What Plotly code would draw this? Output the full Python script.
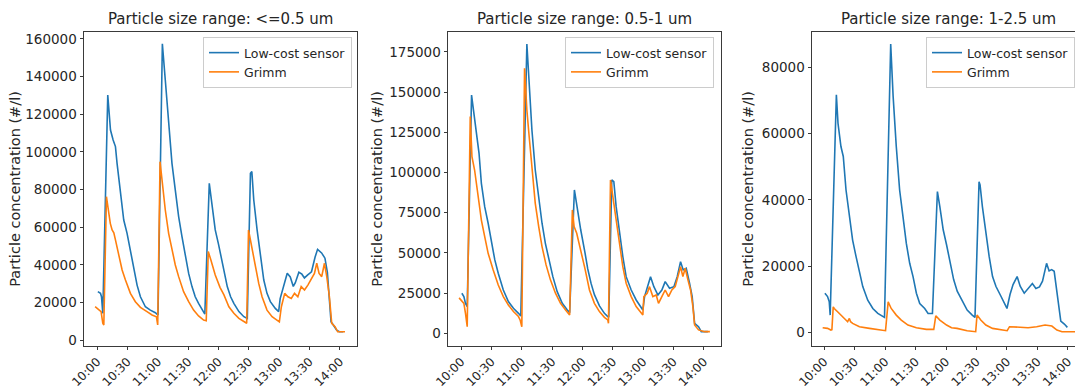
import plotly.graph_objects as go

# ---------------- data (minutes after 10:00, particle concentration #/l) ----------------
tick_minutes = [0, 30, 60, 90, 120, 150, 180, 210, 240]
tick_labels = ["10:00", "10:30", "11:00", "11:30", "12:00", "12:30", "13:00", "13:30", "14:00"]

panel_titles = ["Particle size range: <=0.5 um",
                "Particle size range: 0.5-1 um",
                "Particle size range: 1-2.5 um"]
series_names = ["Low-cost sensor", "Grimm"]
y_title = "Particle concentration (#/l)"

# Panel 1: <=0.5 um
p1_sensor_t = [0.7, 3.3, 4.3, 5.6, 10.5, 13.2, 15.8, 18.1, 19.7, 23.0, 26.3, 29.6, 32.9, 36.2, 39.5,
               42.8, 47.7, 52.6, 57.6, 60.2, 64.5, 67.4, 70.7, 74.0, 77.3, 80.6, 83.9, 87.2, 90.5,
               93.8, 97.0, 100.3, 104.6, 106.5, 110.9, 113.5, 116.8, 120.0, 123.0, 125.4, 128.7,
               132.0, 135.2, 140.2, 145.1, 148.5, 151.6, 153.0, 154.9, 158.2, 161.5, 164.8, 168.0,
               171.3, 176.2, 179.5, 181.0, 184.4, 188.0, 191.0, 194.0, 196.0, 199.5, 202.5, 205.0,
               208.0, 212.0, 215.5, 218.0, 222.0, 225.3, 227.7, 229.7, 231.3, 233.6, 236.9, 239.5,
               243.4]
p1_sensor_v = [25700, 24800, 23000, 14200, 130200, 111600, 106300, 102800, 93900, 78000, 63800,
               56700, 47800, 37200, 29200, 23000, 17700, 15900, 14500, 13300, 157400, 138200,
               117000, 93900, 79700, 65600, 54900, 44300, 35400, 28400, 23000, 19500, 15100, 13800,
               83300, 70900, 58500, 51000, 43000, 37200, 28400, 23000, 19500, 15100, 12400, 11500,
               88600, 89500, 74400, 58500, 44300, 31900, 24800, 20400, 16800, 15100, 22000, 29000,
               35500, 33500, 28500, 30500, 36000, 35000, 33000, 34500, 36300, 44000, 48200, 46300,
               43500, 36000, 23000, 9700, 8000, 5300, 4400, 4400]

p1_grimm_t = [-2.0, 1.6, 3.9, 5.6, 6.6, 9.2, 11.5, 13.0, 14.8, 16.5, 18.1, 21.4, 24.7, 28.0, 32.9,
              37.8, 42.8, 49.3, 54.3, 58.6, 59.9, 62.2, 64.8, 67.4, 70.7, 74.0, 77.3, 80.6, 85.5,
              90.5, 95.4, 100.3, 105.3, 107.9, 109.9, 112.5, 116.8, 121.5, 125.4, 130.3, 135.2,
              140.2, 145.1, 147.9, 149.7, 153.3, 156.6, 159.8, 163.1, 168.0, 173.0, 177.9, 180.2,
              182.2, 185.5, 188.7, 192.0, 195.2, 198.5, 201.8, 205.1, 208.4, 211.6, 214.9, 217.2,
              219.5, 222.1, 224.8, 227.1, 229.7, 232.0, 235.3, 237.9, 245.1]
p1_grimm_v = [17700, 15900, 15100, 8900, 8000, 76200, 65600, 62000, 58500, 57000, 53200, 44300,
              37200, 31900, 24800, 20400, 17400, 15100, 13300, 12400, 8000, 94800, 81500, 69100,
              56700, 47800, 39900, 33700, 25700, 20400, 15900, 12800, 10600, 10300, 47000, 42500,
              34600, 28000, 24000, 17700, 14200, 11500, 9700, 8900, 58500, 47800, 39000, 30100,
              23000, 15900, 12400, 10600, 9700, 17700, 24800, 23000, 22100, 24800, 23000, 28400,
              26600, 29200, 31900, 35400, 40800, 35400, 33700, 40800, 33700, 23000, 8900, 7100,
              4400, 4400]

# Panel 2: 0.5-1 um
p2_sensor_t = [0.7, 2.7, 4.3, 6.0, 10.3, 12.7, 15.0, 17.7, 20.0, 23.3, 26.7, 30.0, 33.3, 36.7,
               41.7, 46.7, 51.7, 56.7, 59.0, 65.0, 67.3, 70.0, 73.3, 76.7, 80.0, 83.3, 86.7, 90.7,
               95.0, 100.0, 105.0, 107.3, 112.0, 115.0, 118.3, 122.5, 125.2, 128.5, 131.8, 136.8,
               141.7, 145.0, 146.0, 149.0, 151.0, 153.3, 156.6, 159.9, 163.2, 168.2, 173.1, 178.1,
               179.7, 181.4, 184.7, 187.3, 190.6, 194.6, 198.5, 201.8, 206.1, 210.4, 213.7, 217.0,
               219.6, 222.6, 225.9, 228.5, 230.9, 234.8, 237.5, 244.0]
p2_sensor_v = [24900, 22800, 18600, 16600, 148100, 136800, 124300, 111900, 93200, 78700, 68400,
               55900, 45600, 37300, 26900, 19700, 15500, 12400, 10800, 179800, 151300, 126400,
               101500, 82900, 68400, 55900, 45600, 35200, 25900, 18600, 14500, 12800, 89100, 76700,
               64200, 50000, 40000, 31000, 24000, 17000, 12400, 10400, 10000, 95300, 94300, 78700,
               62200, 47700, 35200, 26900, 20700, 15500, 14500, 22800, 29000, 35200, 29000, 23800,
               26900, 32100, 28000, 29000, 35200, 44500, 39400, 40400, 31100, 22800, 6200, 4100,
               1000, 1000]

p2_grimm_t = [-2.0, 2.7, 4.3, 6.0, 9.0, 10.7, 13.3, 16.7, 20.0, 23.3, 26.7, 31.7, 36.7, 41.7, 46.7,
              51.7, 56.7, 58.3, 60.0, 62.7, 65.0, 67.3, 70.0, 73.3, 76.7, 80.0, 84.0, 88.3, 93.3,
              98.3, 103.3, 107.3, 110.0, 111.7, 114.3, 118.3, 122.5, 126.9, 131.8, 136.8, 141.7,
              145.0, 145.7, 147.7, 150.0, 153.3, 156.6, 159.9, 163.2, 168.2, 173.1, 178.1, 179.7,
              180.7, 184.0, 186.3, 189.6, 192.9, 195.2, 198.5, 201.8, 205.1, 208.4, 211.7, 215.0,
              217.0, 219.3, 221.6, 224.3, 226.9, 229.2, 230.9, 234.8, 240.8, 246.0]
p2_grimm_v = [22000, 18600, 12400, 4100, 134700, 109800, 101500, 85000, 70400, 60100, 49700, 39400,
              30000, 22800, 17600, 13500, 10400, 8300, 4100, 164700, 138800, 122200, 101500, 80800,
              66300, 53900, 42500, 33200, 24900, 18600, 14500, 11400, 76700, 66300, 62200, 51800,
              40000, 26900, 18600, 13500, 9900, 8300, 6200, 95300, 85000, 68400, 53900, 41400,
              31100, 22800, 16600, 12400, 11400, 22800, 24900, 29000, 22800, 23800, 18600, 22800,
              26900, 22800, 26900, 29000, 37300, 41400, 35200, 40400, 33200, 26900, 16600, 5200,
              2100, 1000, 1000]

# Panel 3: 1-2.5 um
p3_sensor_t = [0.7, 3.3, 5.0, 5.9, 12.0, 13.6, 16.5, 18.8, 21.5, 24.8, 28.0, 31.4, 34.7, 38.0,
               42.9, 47.9, 52.8, 59.4, 65.5, 67.9, 71.0, 74.3, 77.6, 80.9, 84.2, 87.5, 90.8, 94.1,
               99.0, 102.3, 106.6, 111.5, 113.9, 117.2, 120.5, 124.0, 127.5, 131.0, 135.8, 140.8,
               145.8, 148.5, 152.5, 153.5, 155.8, 159.2, 162.5, 165.8, 169.2, 174.2, 177.5, 180.0,
               183.0, 186.0, 190.0, 193.0, 197.0, 201.0, 205.0, 208.5, 212.0, 215.0, 219.0, 221.5,
               224.0, 226.5, 229.5, 233.0, 236.5, 239.5]
p3_sensor_v = [11900, 10900, 9300, 5300, 71700, 63100, 56100, 53100, 43000, 35000, 27900, 22900,
               17900, 13900, 9800, 7300, 5800, 4600, 87000, 71200, 56100, 43000, 35000, 26900,
               20900, 16900, 11900, 8800, 7300, 5800, 5800, 42500, 38000, 31000, 26500, 21000,
               16000, 12500, 9800, 6800, 5300, 4600, 45500, 44500, 38000, 29900, 22900, 16900,
               13900, 10900, 8800, 7300, 11500, 14500, 16900, 14000, 11900, 13500, 14800, 13300,
               13800, 15500, 20900, 18600, 19000, 18500, 12000, 3500, 2600, 1600]

p3_grimm_t = [-1.5, 3.3, 6.6, 7.6, 8.9, 9.9, 13.2, 18.2, 23.1, 24.8, 26.0, 28.0, 34.7, 44.6, 54.5,
              60.4, 63.0, 66.0, 71.0, 75.9, 82.5, 90.8, 100.7, 107.9, 109.9, 113.9, 120.5, 125.4,
              130.8, 140.8, 149.2, 150.5, 154.2, 159.2, 165.8, 174.2, 180.2, 182.5, 190.8, 200.8,
              209.2, 217.5, 224.2, 229.2, 234.2, 247.0]
p3_grimm_v = [1500, 1300, 800, 900, 7800, 7300, 6300, 4800, 3300, 4300, 3300, 2800, 1800, 1300, 800,
              600, 9300, 7300, 5300, 3800, 2300, 1500, 1000, 1000, 5100, 3800, 2300, 1500, 1300, 600,
              300, 5300, 3800, 2300, 1300, 800, 600, 1800, 1600, 1500, 1800, 2300, 2000, 800, 300, 300]

panels = [
    (p1_sensor_t, p1_sensor_v, p1_grimm_t, p1_grimm_v),
    (p2_sensor_t, p2_sensor_v, p2_grimm_t, p2_grimm_v),
    (p3_sensor_t, p3_sensor_v, p3_grimm_t, p3_grimm_v),
]

# ---------------- layout geometry ----------------
W, H = 1075, 392
BLUE, ORANGE = "#1f77b4", "#ff7f0e"
FONT = "DejaVu Sans"
TXT = "#262626"
SPINE = "#3a3a3a"

x_dom = [(84 / W, 357 / W), (448 / W, 721 / W), (812 / W, 1.0)]
y_dom = (1 - 345.5 / H, 1 - 32 / H)
x_ranges = [(-13, 257), (-13, 257), (-12, 247)]
y_ranges = [(-2900, 163700), (-7600, 187300), (-3860, 90600)]
y_dticks = [20000, 25000, 20000]
legend_right = [352 / W, 714 / W, 1075 / W]
title_cx = [220.5 / W, 584.5 / W, 948 / W]
ytitle_cx = [15 / W, 377 / W, 748 / W]

fig = go.Figure()
layout = dict(
    width=W, height=H,
    margin=dict(l=0, r=0, t=0, b=0, autoexpand=False),
    paper_bgcolor="white", plot_bgcolor="white",
    font=dict(family=FONT, size=12, color=TXT),
    showlegend=True,
    annotations=[],
)

for i, (st, sv, gt, gv) in enumerate(panels):
    sfx = "" if i == 0 else str(i + 1)
    leg = "legend" + sfx
    fig.add_trace(go.Scatter(x=st, y=sv, mode="lines", name=series_names[0],
                             line=dict(color=BLUE, width=1.6),
                             xaxis="x" + sfx, yaxis="y" + sfx, legend=leg))
    fig.add_trace(go.Scatter(x=gt, y=gv, mode="lines", name=series_names[1],
                             line=dict(color=ORANGE, width=1.6),
                             xaxis="x" + sfx, yaxis="y" + sfx, legend=leg))
    layout["xaxis" + sfx] = dict(
        domain=list(x_dom[i]), anchor="y" + sfx, range=list(x_ranges[i]),
        tickmode="array", tickvals=tick_minutes, ticktext=tick_labels, tickangle=-45,
        ticks="outside", ticklen=3.5, tickwidth=1, tickcolor=SPINE,
        showline=True, linecolor=SPINE, linewidth=1, mirror=True,
        showgrid=False, zeroline=False,
        tickfont=dict(family=FONT, size=12, color=TXT),
    )
    layout["yaxis" + sfx] = dict(
        domain=list(y_dom), anchor="x" + sfx, range=list(y_ranges[i]),
        tick0=0, dtick=y_dticks[i], tickformat="d",
        ticks="outside", ticklen=3.5, tickwidth=1, tickcolor=SPINE,
        showline=True, linecolor=SPINE, linewidth=1, mirror=(i < 2),
        showgrid=False, zeroline=False,
        tickfont=dict(family=FONT, size=13.5, color=TXT),
    )
    layout[leg] = dict(
        x=legend_right[i], xanchor="right", y=1 - 37 / H, yanchor="top",
        bgcolor="rgba(255,255,255,0.85)", bordercolor="#cccccc", borderwidth=1,
        font=dict(family=FONT, size=12.5, color=TXT), tracegroupgap=0,
    )
    layout["annotations"].append(dict(
        text=panel_titles[i], x=title_cx[i], y=1 - 18.5 / H, xref="paper", yref="paper",
        xanchor="center", yanchor="middle", showarrow=False,
        font=dict(family=FONT, size=15, color=TXT)))
    layout["annotations"].append(dict(
        text=y_title, x=ytitle_cx[i], y=(y_dom[0] + y_dom[1]) / 2, xref="paper", yref="paper",
        xanchor="center", yanchor="middle", showarrow=False, textangle=-90,
        font=dict(family=FONT, size=14.5, color=TXT)))

fig.update_layout(**layout)
fig.write_html("out.html", config={"displayModeBar": False},
               post_script="document.body.style.margin='0';")
